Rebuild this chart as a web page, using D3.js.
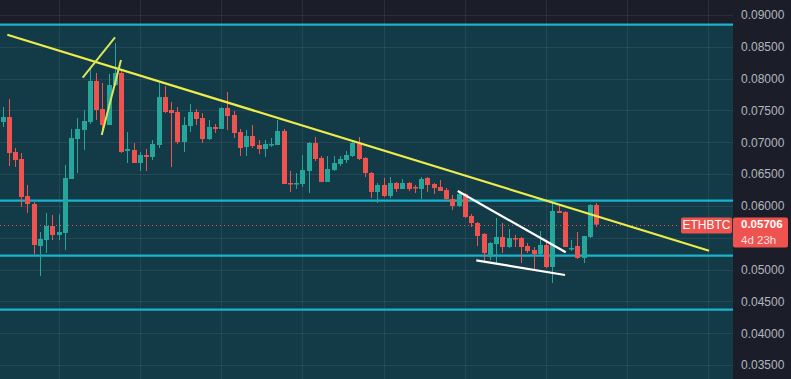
<!DOCTYPE html>
<html><head><meta charset="utf-8">
<script src="https://cdn.jsdelivr.net/npm/d3@7"></script>
<style>
html,body{margin:0;padding:0;background:#1b1e29;}
svg{display:block;}
</style></head>
<body>
<svg id="chart" width="791" height="379"></svg>
<script>
// ---- data ----
const symbol = "ETHBTC";
const lastPrice = 0.05706;
const countdown = "4d 23h";
const tickLabels = [0.035,0.04,0.045,0.05,0.055,0.06,0.065,0.07,0.075,0.08,0.085,0.09];
const opens  = [0.07319,0.07397,0.06847,0.06737,0.06156,0.06030,0.05370,0.05464,0.05684,0.05543,
  0.05574,0.06423,0.07051,0.07193,0.07319,0.07963,0.07523,0.07271,0.07900,0.08089,
  0.06863,0.06879,0.06674,0.06800,0.06769,0.06957,0.07711,0.07507,0.07476,0.07004,
  0.07256,0.07476,0.07381,0.07051,0.07240,0.07209,0.07539,0.07429,0.07161,0.06926,
  0.07099,0.06957,0.06894,0.06957,0.06957,0.07177,0.06360,0.06344,0.06344,0.06549,
  0.06989,0.06753,0.06376,0.06564,0.06659,0.06721,0.06784,0.06973,0.06753,0.06517,
  0.06219,0.06329,0.06156,0.06360,0.06266,0.06360,0.06297,0.06266,0.06439,0.06344,
  0.06297,0.06250,0.06109,0.05999,0.06187,0.05841,0.05731,0.05559,0.05197,0.05401,
  0.05512,0.05354,0.05496,0.05496,0.05370,0.05307,0.05244,0.05386,0.05040,0.05920,
  0.05904,0.05323,0.05370,0.05181,0.05512,0.06014];
const highs  = [0.07554,0.07680,0.06910,0.06831,0.06329,0.06062,0.05590,0.05889,0.05857,0.05873,
  0.06643,0.07209,0.07381,0.07507,0.08151,0.08089,0.07931,0.08073,0.08560,0.08151,
  0.07161,0.06989,0.06847,0.06894,0.07036,0.07931,0.07884,0.07633,0.07554,0.07397,
  0.07601,0.07523,0.07460,0.07350,0.07287,0.07554,0.07790,0.07491,0.07209,0.07193,
  0.07271,0.07036,0.07036,0.07067,0.07350,0.07209,0.06549,0.06517,0.06800,0.07004,
  0.07083,0.06784,0.06784,0.06784,0.06784,0.06863,0.07004,0.07083,0.06769,0.06533,
  0.06360,0.06439,0.06454,0.06376,0.06423,0.06376,0.06329,0.06454,0.06454,0.06360,
  0.06407,0.06281,0.06171,0.06234,0.06203,0.05873,0.05747,0.05574,0.05433,0.05810,
  0.05731,0.05637,0.05543,0.05512,0.05417,0.05354,0.05606,0.05433,0.06093,0.06030,
  0.05920,0.05464,0.05590,0.05527,0.06030,0.06046];
const lows   = [0.07240,0.06627,0.06611,0.05983,0.05889,0.05244,0.04899,0.05260,0.05464,0.05464,
  0.05307,0.06517,0.06517,0.06879,0.07287,0.07350,0.07193,0.07271,0.07884,0.06831,
  0.06674,0.06674,0.06549,0.06549,0.06721,0.06910,0.07460,0.06611,0.06973,0.06847,
  0.07161,0.07271,0.06989,0.07036,0.07146,0.07209,0.07193,0.07067,0.06784,0.06784,
  0.06910,0.06816,0.06769,0.06926,0.06957,0.06344,0.06219,0.06266,0.06297,0.06203,
  0.06706,0.06376,0.06376,0.06549,0.06627,0.06674,0.06769,0.06721,0.06454,0.06124,
  0.06046,0.06140,0.06124,0.06219,0.06266,0.06234,0.06203,0.06109,0.06219,0.06187,
  0.06234,0.06093,0.05936,0.05983,0.05810,0.05669,0.05370,0.05103,0.05150,0.05103,
  0.05260,0.05339,0.05354,0.05103,0.05260,0.04977,0.05229,0.05024,0.04789,0.05889,
  0.05354,0.05291,0.05166,0.05103,0.05496,0.05669];
const closes = [0.07397,0.06831,0.06721,0.06140,0.06030,0.05386,0.05480,0.05684,0.05543,0.05590,
  0.06439,0.07067,0.07209,0.07334,0.07963,0.07507,0.07271,0.07900,0.08089,0.06847,
  0.06894,0.06674,0.06800,0.06769,0.06973,0.07711,0.07476,0.07460,0.07004,0.07271,
  0.07476,0.07366,0.07051,0.07240,0.07209,0.07539,0.07413,0.07146,0.06910,0.07099,
  0.06941,0.06894,0.06973,0.06973,0.07177,0.06344,0.06344,0.06360,0.06564,0.06989,
  0.06737,0.06376,0.06580,0.06674,0.06737,0.06800,0.06989,0.06737,0.06517,0.06219,
  0.06329,0.06156,0.06360,0.06266,0.06360,0.06266,0.06281,0.06423,0.06329,0.06281,
  0.06234,0.06109,0.05999,0.06187,0.05826,0.05731,0.05527,0.05260,0.05417,0.05512,
  0.05354,0.05496,0.05480,0.05354,0.05291,0.05244,0.05386,0.05040,0.05920,0.05889,
  0.05354,0.05339,0.05181,0.05527,0.06014,0.05706];
// horizontal support/resistance levels (price)
const levels = [0.08848, 0.06082, 0.05218, 0.04369];
// drawn trendlines: [barIndex, price] endpoints
const yellowTrend = [[0.77,0.08690],[113.1,0.05296]];
const yellowTicks = [[[12.84,0.08015],[18.01,0.08650]], [[15.88,0.07114],[18.97,0.08293]]];
const wedgeLines = [[[72.87,0.06234],[90.15,0.05271]], [[75.84,0.05145],[90.04,0.04914]]];
const gridBars = [9,22,35,48,61,74,87,100,113];

// ---- layout ----
const W = 791, H = 379, plotR = 733;
const svg = d3.select("#chart");
const x = d3.scaleLinear().domain([0, 95]).range([2.5, 596]);
const y = d3.scaleLinear().domain([0.035, 0.09]).range([365, 15]);

const candles = opens.map((o,i)=>({i,o,h:highs[i],l:lows[i],c:closes[i]}));
const green = "#26a69a", red = "#ef5350";
const font = "Liberation Sans, Arial, sans-serif";

// backgrounds
svg.append("rect").attr("x",0).attr("y",0).attr("width",W).attr("height",H).attr("fill","#1b1e29");
svg.append("rect").attr("x",0).attr("y",y(levels[0])).attr("width",plotR)
  .attr("height",H - y(levels[0])).attr("fill","#133a47");

// grid
const grid = svg.append("g");
grid.selectAll("line.h").data(tickLabels).join("line")
  .attr("x1",0).attr("x2",plotR)
  .attr("y1",d=>Math.round(y(d))+0.5).attr("y2",d=>Math.round(y(d))+0.5)
  .attr("stroke","rgba(255,255,255,0.07)").attr("stroke-width",1);
grid.selectAll("line.v").data(gridBars).join("line")
  .attr("x1",d=>Math.round(x(d))+0.5).attr("x2",d=>Math.round(x(d))+0.5)
  .attr("y1",0).attr("y2",H)
  .attr("stroke","rgba(255,255,255,0.07)").attr("stroke-width",1);

// horizontal levels
svg.append("g").selectAll("line").data(levels).join("line")
  .attr("x1",0).attr("x2",plotR)
  .attr("y1",d=>y(d)).attr("y2",d=>y(d))
  .attr("stroke","#1ab3cc").attr("stroke-width",2.2);

// last price dotted line
svg.append("line").attr("x1",0).attr("x2",680).attr("y1",Math.round(y(lastPrice))+0.5)
  .attr("y2",Math.round(y(lastPrice))+0.5)
  .attr("stroke",red).attr("stroke-width",1).attr("stroke-dasharray","1,3");

// candles
const cg = svg.append("g");
cg.selectAll("line").data(candles).join("line")
  .attr("x1",d=>Math.round(x(d.i))+0.5).attr("x2",d=>Math.round(x(d.i))+0.5)
  .attr("y1",d=>y(d.h)).attr("y2",d=>y(d.l))
  .attr("stroke",d=>d.c>=d.o?green:red).attr("stroke-width",1);
cg.selectAll("rect").data(candles).join("rect")
  .attr("x",d=>Math.round(x(d.i))-2).attr("width",5)
  .attr("y",d=>y(Math.max(d.o,d.c)))
  .attr("height",d=>Math.max(1.5, Math.abs(y(d.o)-y(d.c))))
  .attr("fill",d=>d.c>=d.o?green:red);

// drawings
const line = d3.line().x(d=>x(d[0])).y(d=>y(d[1]));
svg.append("path").attr("d",line(yellowTrend)).attr("fill","none")
  .attr("stroke","#ecec4a").attr("stroke-width",2.2);
svg.append("g").selectAll("path").data(yellowTicks).join("path")
  .attr("d",line).attr("fill","none").attr("stroke","#d8e65c").attr("stroke-width",2);
svg.append("g").selectAll("path").data(wedgeLines).join("path")
  .attr("d",line).attr("fill","none").attr("stroke","#ffffff").attr("stroke-width",2.2);

// right axis
const ly = y(lastPrice);
const boxTop = ly - 7, boxBottom = ly + 23;
svg.append("rect").attr("x",plotR).attr("y",0).attr("width",W-plotR).attr("height",H).attr("fill","#1b1e29");
const axis = d3.axisRight(y).tickValues(tickLabels).tickSize(0).tickPadding(8)
  .tickFormat(d3.format(".5f"));
const ag = svg.append("g").attr("transform",`translate(${plotR},0)`).call(axis);
ag.select(".domain").remove();
ag.selectAll("text").attr("fill","#b2b5be").attr("font-family",font)
  .attr("font-size","12px");
// the last-price badge hides tick labels beneath it (as in the platform)
ag.selectAll(".tick").filter(d => y(d) > boxTop - 6 && y(d) < boxBottom + 6).remove();

// price labels
svg.append("rect").attr("x",681).attr("y",ly-7).attr("width",51).attr("height",16)
  .attr("rx",2).attr("fill",red);
svg.append("text").attr("x",706.5).attr("y",ly+1).attr("text-anchor","middle")
  .attr("dominant-baseline","middle").attr("fill","#fff")
  .attr("font-family",font).attr("font-size","12px").text(symbol);
svg.append("rect").attr("x",plotR).attr("y",boxTop).attr("width",55).attr("height",30)
  .attr("rx",2).attr("fill",red);
svg.append("text").attr("x",741).attr("y",ly+0.5).attr("dominant-baseline","middle")
  .attr("fill","#fff").attr("font-weight","bold")
  .attr("font-family",font).attr("font-size","11.5px")
  .text(d3.format(".5f")(lastPrice));
svg.append("text").attr("x",741).attr("y",ly+16).attr("dominant-baseline","middle")
  .attr("fill","rgba(255,255,255,0.85)")
  .attr("font-family",font).attr("font-size","11.5px")
  .text(countdown);
</script>
</body></html>
